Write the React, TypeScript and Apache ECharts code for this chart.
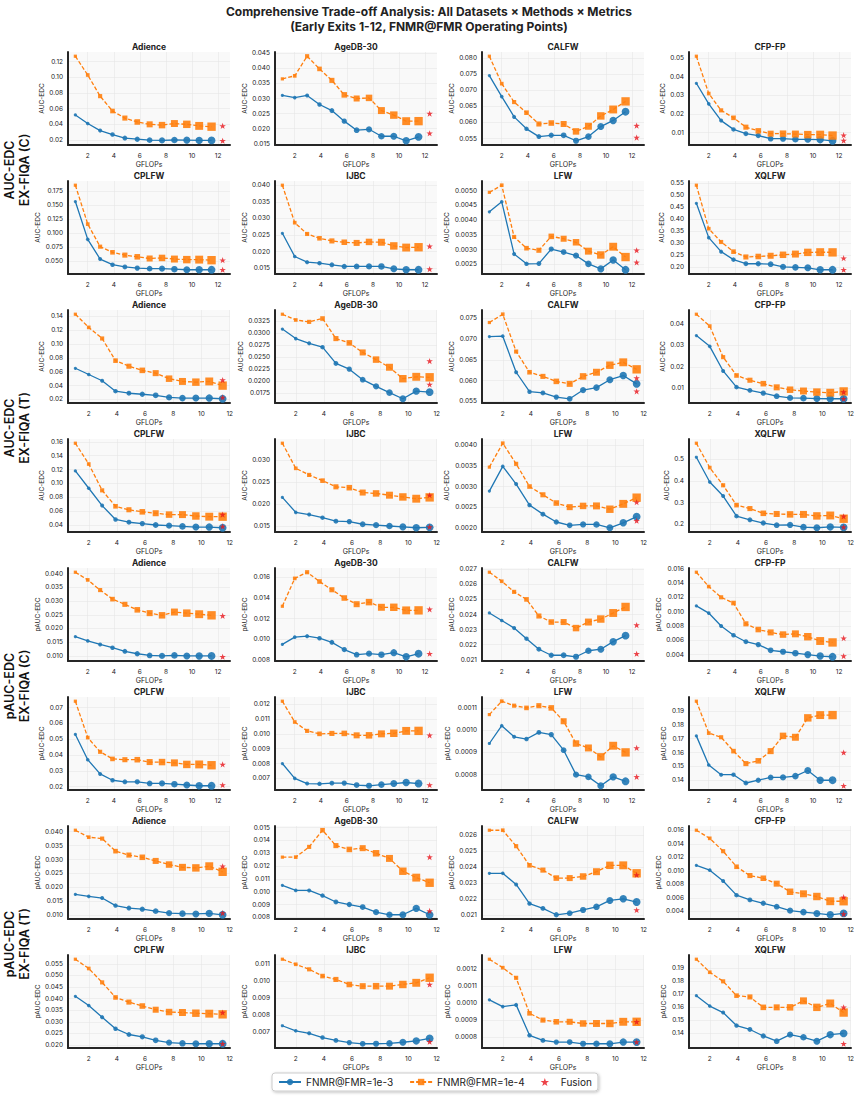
import React, { useEffect, useRef } from 'react';
import * as echarts from 'echarts';

// ---------- data ----------
const gflops = [1.05, 2.0, 2.95, 3.9, 4.85, 5.8, 6.75, 7.7, 8.65, 9.6, 10.55, 11.5];
const fusionGflopsC = 12.35;
const fusionGflopsT = 11.5;
const xTicks = [2, 4, 6, 8, 10, 12];
const datasetsA = ['Adience', 'AgeDB-30', 'CALFW', 'CFP-FP'];
const datasetsB = ['CPLFW', 'IJBC', 'LFW', 'XQLFW'];
const groupLabels = ['AUC-EDC\nEX-FIQA (C)', 'AUC-EDC\nEX-FIQA (T)', 'pAUC-EDC\nEX-FIQA (C)', 'pAUC-EDC\nEX-FIQA (T)'];
const metricNames = ['AUC-EDC', 'AUC-EDC', 'pAUC-EDC', 'pAUC-EDC'];
const seriesNames = ['FNMR@FMR=1e-3', 'FNMR@FMR=1e-4', 'Fusion'];
const figTitle = 'Comprehensive Trade-off Analysis: All Datasets \u00d7 Methods \u00d7 Metrics\n(Early Exits 1-12, FNMR@FMR Operating Points)';

// b: FNMR@FMR=1e-3, o: FNMR@FMR=1e-4, f: fusion [1e-4 level, 1e-3 level]
// ---- AUC-EDC, EX-FIQA (C)
const aucC_Adience = { b: [0.052, 0.041, 0.032, 0.027, 0.0225, 0.021, 0.0198, 0.0195, 0.020, 0.0198, 0.0195, 0.0195], o: [0.127, 0.103, 0.076, 0.057, 0.048, 0.043, 0.040, 0.039, 0.041, 0.040, 0.038, 0.037], f: [0.038, 0.019], ticks: [0.02, 0.04, 0.06, 0.08, 0.10, 0.12], dec: 2 };
const aucC_AgeDB = { b: [0.031, 0.0303, 0.031, 0.028, 0.026, 0.0225, 0.0195, 0.0198, 0.0175, 0.0175, 0.016, 0.0173], o: [0.0365, 0.0375, 0.044, 0.0398, 0.036, 0.0312, 0.030, 0.0302, 0.026, 0.0245, 0.0225, 0.0225], f: [0.025, 0.0185], ticks: [0.015, 0.020, 0.025, 0.030, 0.035, 0.040, 0.045], dec: 3 };
const aucC_CALFW = { b: [0.0745, 0.068, 0.0617, 0.058, 0.0556, 0.056, 0.056, 0.0543, 0.0556, 0.0587, 0.0606, 0.0633], o: [0.0805, 0.072, 0.0663, 0.063, 0.0595, 0.0598, 0.0595, 0.0572, 0.0588, 0.062, 0.064, 0.0665], f: [0.059, 0.0553], ticks: [0.055, 0.060, 0.065, 0.070, 0.075, 0.080], dec: 3 };
const aucC_CFPFP = { b: [0.0365, 0.0255, 0.0165, 0.0118, 0.0095, 0.0085, 0.0068, 0.0068, 0.0065, 0.0065, 0.0063, 0.0057], o: [0.051, 0.031, 0.022, 0.018, 0.013, 0.011, 0.0095, 0.0095, 0.0093, 0.009, 0.009, 0.0085], f: [0.0087, 0.0058], ticks: [0.01, 0.02, 0.03, 0.04, 0.05], dec: 2 };
const aucC_CPLFW = { b: [0.156, 0.089, 0.054, 0.044, 0.040, 0.038, 0.037, 0.037, 0.036, 0.035, 0.035, 0.035], o: [0.185, 0.116, 0.076, 0.066, 0.061, 0.058, 0.055, 0.056, 0.054, 0.053, 0.053, 0.052], f: [0.052, 0.035], ticks: [0.050, 0.075, 0.100, 0.125, 0.150, 0.175], dec: 3 };
const aucC_IJBC = { b: [0.0255, 0.0185, 0.0168, 0.0165, 0.016, 0.0155, 0.0155, 0.0155, 0.0155, 0.0148, 0.0145, 0.0145], o: [0.040, 0.0287, 0.0253, 0.024, 0.0232, 0.0228, 0.0226, 0.0229, 0.0228, 0.0217, 0.0212, 0.0213], f: [0.0216, 0.0147], ticks: [0.015, 0.020, 0.025, 0.030, 0.035, 0.040], dec: 3 };
const aucC_LFW = { b: [0.00428, 0.00462, 0.00285, 0.00252, 0.00253, 0.00302, 0.00292, 0.0028, 0.00252, 0.00235, 0.00265, 0.00232], o: [0.00494, 0.00518, 0.00343, 0.00305, 0.00298, 0.00345, 0.00337, 0.00325, 0.00295, 0.00282, 0.0031, 0.00275], f: [0.00298, 0.00257], ticks: [0.0025, 0.0030, 0.0035, 0.0040, 0.0045, 0.0050], dec: 4 };
const aucC_XQLFW = { b: [0.465, 0.323, 0.265, 0.232, 0.215, 0.215, 0.213, 0.202, 0.2, 0.198, 0.19, 0.19], o: [0.54, 0.36, 0.305, 0.265, 0.243, 0.245, 0.248, 0.252, 0.255, 0.262, 0.263, 0.262], f: [0.238, 0.19], ticks: [0.20, 0.25, 0.30, 0.35, 0.40, 0.45, 0.50, 0.55], dec: 2 };
// ---- AUC-EDC, EX-FIQA (T)
const aucT_Adience = { b: [0.065, 0.056, 0.047, 0.032, 0.029, 0.0275, 0.026, 0.023, 0.022, 0.022, 0.022, 0.021], o: [0.143, 0.124, 0.108, 0.076, 0.068, 0.062, 0.058, 0.050, 0.046, 0.045, 0.046, 0.040], f: [0.048, 0.023], ticks: [0.02, 0.04, 0.06, 0.08, 0.10, 0.12, 0.14], dec: 2 };
const aucT_AgeDB = { b: [0.0309, 0.0289, 0.0279, 0.0271, 0.0237, 0.0225, 0.0203, 0.0189, 0.0176, 0.0163, 0.0179, 0.0177], o: [0.0340, 0.0328, 0.0324, 0.0331, 0.0289, 0.0280, 0.0260, 0.0245, 0.0229, 0.0205, 0.0209, 0.0208], f: [0.0242, 0.0193], ticks: [0.0175, 0.0200, 0.0225, 0.0250, 0.0275, 0.0300, 0.0325], dec: 4 };
const aucT_CALFW = { b: [0.0706, 0.0707, 0.062, 0.0573, 0.057, 0.056, 0.0556, 0.0577, 0.0583, 0.0602, 0.0612, 0.0592], o: [0.074, 0.076, 0.067, 0.062, 0.061, 0.0598, 0.0592, 0.061, 0.062, 0.0637, 0.0644, 0.0627], f: [0.0606, 0.0574], ticks: [0.055, 0.060, 0.065, 0.070, 0.075], dec: 3 };
const aucT_CFPFP = { b: [0.0345, 0.0295, 0.0181, 0.0106, 0.0091, 0.0078, 0.0064, 0.0056, 0.0055, 0.0053, 0.0052, 0.0052], o: [0.0444, 0.0389, 0.0245, 0.016, 0.0138, 0.0122, 0.0105, 0.0094, 0.0088, 0.0083, 0.008, 0.0086], f: [0.0083, 0.0052], ticks: [0.01, 0.02, 0.03, 0.04], dec: 2 };
const aucT_CPLFW = { b: [0.118, 0.093, 0.068, 0.048, 0.044, 0.042, 0.040, 0.039, 0.038, 0.037, 0.037, 0.036], o: [0.158, 0.128, 0.090, 0.067, 0.062, 0.059, 0.057, 0.055, 0.055, 0.053, 0.052, 0.052], f: [0.055, 0.038], ticks: [0.04, 0.06, 0.08, 0.10, 0.12, 0.14, 0.16], dec: 2 };
const aucT_IJBC = { b: [0.0215, 0.0181, 0.0176, 0.0169, 0.0161, 0.016, 0.0154, 0.0152, 0.015, 0.0148, 0.0146, 0.0147], o: [0.0338, 0.0281, 0.0266, 0.0253, 0.0239, 0.0237, 0.0226, 0.0224, 0.022, 0.0216, 0.0212, 0.0215], f: [0.022, 0.0148], ticks: [0.015, 0.020, 0.025, 0.030], dec: 3 };
const aucT_LFW = { b: [0.00289, 0.00349, 0.00306, 0.00255, 0.00233, 0.00214, 0.00206, 0.00208, 0.00208, 0.002, 0.00212, 0.00227], o: [0.00347, 0.00405, 0.00355, 0.003, 0.0028, 0.0026, 0.0025, 0.00253, 0.00253, 0.00245, 0.00258, 0.00273], f: [0.00262, 0.00217], ticks: [0.0020, 0.0025, 0.0030, 0.0035, 0.0040], dec: 4 };
const aucT_XQLFW = { b: [0.51, 0.395, 0.33, 0.237, 0.22, 0.205, 0.195, 0.196, 0.186, 0.183, 0.187, 0.185], o: [0.575, 0.462, 0.38, 0.288, 0.272, 0.25, 0.247, 0.245, 0.245, 0.238, 0.24, 0.225], f: [0.236, 0.186], ticks: [0.2, 0.3, 0.4, 0.5], dec: 1 };
// ---- pAUC-EDC, EX-FIQA (C)
const paucC_Adience = { b: [0.017, 0.0155, 0.0142, 0.013, 0.0117, 0.0108, 0.0102, 0.0100, 0.0102, 0.0100, 0.0100, 0.0100], o: [0.0405, 0.0377, 0.034, 0.0307, 0.0288, 0.0268, 0.0256, 0.0248, 0.026, 0.0256, 0.0252, 0.0248], f: [0.0246, 0.0097], ticks: [0.010, 0.015, 0.020, 0.025, 0.030, 0.035, 0.040], dec: 3 };
const paucC_AgeDB = { b: [0.0095, 0.0102, 0.0103, 0.0101, 0.0097, 0.009, 0.0085, 0.0086, 0.0085, 0.0087, 0.0083, 0.0086], o: [0.0132, 0.0159, 0.0165, 0.0156, 0.0148, 0.014, 0.0134, 0.0136, 0.0131, 0.0131, 0.0128, 0.0128], f: [0.0129, 0.0086], ticks: [0.008, 0.010, 0.012, 0.014, 0.016], dec: 3 };
const paucC_CALFW = { b: [0.0241, 0.0236, 0.0231, 0.0224, 0.0217, 0.0213, 0.0213, 0.0212, 0.0216, 0.0217, 0.0222, 0.0226], o: [0.0268, 0.0262, 0.0255, 0.025, 0.0239, 0.0235, 0.0235, 0.0231, 0.0235, 0.0237, 0.0241, 0.0245], f: [0.0233, 0.0214], ticks: [0.021, 0.022, 0.023, 0.024, 0.025, 0.026, 0.027], dec: 3 };
const paucC_CFPFP = { b: [0.0108, 0.0098, 0.008, 0.0067, 0.0058, 0.0054, 0.0046, 0.0044, 0.0042, 0.004, 0.0038, 0.0037], o: [0.0155, 0.0135, 0.012, 0.0112, 0.0083, 0.0075, 0.0071, 0.0068, 0.0069, 0.0065, 0.0059, 0.0057], f: [0.0063, 0.0038], ticks: [0.004, 0.006, 0.008, 0.010, 0.012, 0.014, 0.016], dec: 3 };
const paucC_CPLFW = { b: [0.053, 0.037, 0.028, 0.024, 0.023, 0.023, 0.022, 0.022, 0.0215, 0.021, 0.0205, 0.0205], o: [0.074, 0.051, 0.042, 0.0375, 0.037, 0.037, 0.0355, 0.0355, 0.035, 0.034, 0.034, 0.0335], f: [0.034, 0.021], ticks: [0.02, 0.03, 0.04, 0.05, 0.06, 0.07], dec: 2 };
const paucC_IJBC = { b: [0.0080, 0.0070, 0.00665, 0.00663, 0.00668, 0.00668, 0.00655, 0.0065, 0.00658, 0.00665, 0.00672, 0.00665], o: [0.0122, 0.0108, 0.0102, 0.0100, 0.01003, 0.01003, 0.0099, 0.0099, 0.01, 0.01004, 0.0102, 0.0102], f: [0.0099, 0.00655], ticks: [0.007, 0.008, 0.009, 0.010, 0.011, 0.012], dec: 3 };
const paucC_LFW = { b: [0.00094, 0.00102, 0.00097, 0.00096, 0.00099, 0.00098, 0.00091, 0.0008, 0.00079, 0.00075, 0.00079, 0.00077], o: [0.00107, 0.00113, 0.00111, 0.0011, 0.00111, 0.0011, 0.00104, 0.00094, 0.00092, 0.00088, 0.00093, 0.0009], f: [0.00092, 0.00079], ticks: [0.0008, 0.0009, 0.0010, 0.0011], dec: 4 };
const paucC_XQLFW = { b: [0.172, 0.151, 0.144, 0.144, 0.138, 0.14, 0.142, 0.142, 0.143, 0.147, 0.14, 0.14], o: [0.197, 0.174, 0.171, 0.161, 0.152, 0.154, 0.161, 0.172, 0.171, 0.185, 0.187, 0.187], f: [0.160, 0.136], ticks: [0.14, 0.15, 0.16, 0.17, 0.18, 0.19], dec: 2 };
// ---- pAUC-EDC, EX-FIQA (T)
const paucT_Adience = { b: [0.0175, 0.0168, 0.0162, 0.0135, 0.0126, 0.0122, 0.0115, 0.0108, 0.0106, 0.0105, 0.0107, 0.0102], o: [0.0405, 0.038, 0.0375, 0.033, 0.0316, 0.0308, 0.0295, 0.0282, 0.0272, 0.027, 0.0276, 0.0256], f: [0.0276, 0.0108], ticks: [0.010, 0.015, 0.020, 0.025, 0.030, 0.035, 0.040], dec: 3 };
const paucT_AgeDB = { b: [0.0105, 0.0101, 0.0101, 0.0097, 0.0092, 0.009, 0.0088, 0.0084, 0.0082, 0.0082, 0.0087, 0.0082], o: [0.0127, 0.0127, 0.0135, 0.0148, 0.0136, 0.0133, 0.0134, 0.013, 0.0126, 0.0116, 0.0111, 0.0107], f: [0.0127, 0.0085], ticks: [0.008, 0.009, 0.010, 0.011, 0.012, 0.013, 0.014, 0.015], dec: 3 };
const paucT_CALFW = { b: [0.0236, 0.0236, 0.0229, 0.0217, 0.0214, 0.021, 0.0211, 0.0213, 0.0215, 0.0219, 0.022, 0.0218], o: [0.0263, 0.0263, 0.0253, 0.0241, 0.0238, 0.0233, 0.0233, 0.0234, 0.0237, 0.0241, 0.0241, 0.0236], f: [0.0235, 0.0213], ticks: [0.021, 0.022, 0.023, 0.024, 0.025, 0.026], dec: 3 };
const paucT_CFPFP = { b: [0.0108, 0.0101, 0.0085, 0.0064, 0.0057, 0.0052, 0.0047, 0.0041, 0.0039, 0.0037, 0.0035, 0.0037], o: [0.016, 0.0148, 0.0129, 0.0106, 0.0093, 0.0089, 0.0081, 0.0069, 0.0066, 0.0062, 0.0055, 0.0055], f: [0.0061, 0.0036], ticks: [0.004, 0.006, 0.008, 0.010, 0.012, 0.014, 0.016], dec: 3 };
const paucT_CPLFW = { b: [0.041, 0.037, 0.032, 0.027, 0.0245, 0.0235, 0.022, 0.021, 0.0207, 0.0205, 0.0205, 0.0205], o: [0.057, 0.053, 0.047, 0.0405, 0.0385, 0.0368, 0.0352, 0.0342, 0.034, 0.0337, 0.0335, 0.0332], f: [0.034, 0.0205], ticks: [0.020, 0.025, 0.030, 0.035, 0.040, 0.045, 0.050, 0.055], dec: 3 };
const paucT_IJBC = { b: [0.00735, 0.00705, 0.0069, 0.00665, 0.00648, 0.00635, 0.00628, 0.00628, 0.0063, 0.00637, 0.00645, 0.0066], o: [0.0113, 0.0110, 0.0107, 0.0103, 0.0101, 0.0098, 0.0097, 0.0097, 0.0097, 0.0098, 0.0099, 0.0102], f: [0.0098, 0.0064], ticks: [0.007, 0.008, 0.009, 0.010, 0.011], dec: 3 };
const paucT_LFW = { b: [0.00102, 0.00098, 0.00099, 0.00081, 0.00078, 0.00077, 0.00077, 0.00076, 0.00076, 0.00076, 0.00077, 0.00077], o: [0.00126, 0.00121, 0.00115, 0.00094, 0.0009, 0.00089, 0.00089, 0.00088, 0.00088, 0.00088, 0.00089, 0.00089], f: [0.00089, 0.00077], ticks: [0.0008, 0.0009, 0.0010, 0.0011, 0.0012], dec: 4 };
const paucT_XQLFW = { b: [0.169, 0.161, 0.156, 0.146, 0.143, 0.138, 0.134, 0.139, 0.137, 0.134, 0.139, 0.14], o: [0.197, 0.187, 0.18, 0.169, 0.168, 0.16, 0.16, 0.16, 0.165, 0.16, 0.163, 0.156], f: [0.16, 0.132], ticks: [0.14, 0.15, 0.16, 0.17, 0.18, 0.19], dec: 2 };

const panelRows = [
  [aucC_Adience, aucC_AgeDB, aucC_CALFW, aucC_CFPFP],
  [aucC_CPLFW, aucC_IJBC, aucC_LFW, aucC_XQLFW],
  [aucT_Adience, aucT_AgeDB, aucT_CALFW, aucT_CFPFP],
  [aucT_CPLFW, aucT_IJBC, aucT_LFW, aucT_XQLFW],
  [paucC_Adience, paucC_AgeDB, paucC_CALFW, paucC_CFPFP],
  [paucC_CPLFW, paucC_IJBC, paucC_LFW, paucC_XQLFW],
  [paucT_Adience, paucT_AgeDB, paucT_CALFW, paucT_CFPFP],
  [paucT_CPLFW, paucT_IJBC, paucT_LFW, paucT_XQLFW],
];

// ---------- layout / style ----------
const FONT = 'Inter, "DejaVu Sans", sans-serif';
const BLUE = '#1f77b4';
const ORANGE = '#ff7f0e';
const RED = '#e8141c';
const STAR = 'path://M50,0 L61.8,35.1 L98.9,35.5 L69.1,57.6 L80.2,93 L50,71.5 L19.8,93 L30.9,57.6 L1.1,35.5 L38.2,35.1 Z';
const COL_LEFT = [68, 275, 482, 689];
const PW = 162;
const PH = 93;
const TOP0 = 52;
const PITCH = 129;

function buildOption() {
  const grids: any[] = [];
  const xAxes: any[] = [];
  const yAxes: any[] = [];
  const series: any[] = [];
  const graphics: any[] = [];

  panelRows.forEach((row, r) => {
    const isC = Math.floor(r / 2) % 2 === 0;
    const fx = isC ? fusionGflopsC : fusionGflopsT;
    const names = r % 2 === 0 ? datasetsA : datasetsB;
    row.forEach((p, c) => {
      const idx = r * 4 + c;
      const left = COL_LEFT[c];
      const top = TOP0 + r * PITCH;
      grids.push({ left, top, width: PW, height: PH, show: true, backgroundColor: '#f9f9f9', borderWidth: 0 });

      const xLo = gflops[0];
      const xHi = Math.max(gflops[gflops.length - 1], fx);
      const xPad = (xHi - xLo) * 0.05;
      const all = [...p.b, ...p.o, ...p.f];
      const yLo = Math.min(...all);
      const yHi = Math.max(...all);
      const yPad = (yHi - yLo) * 0.05;
      const ymin = yLo - yPad;
      const ymax = yHi + yPad;
      const ticks = p.ticks.filter((t) => t >= ymin - 1e-12 && t <= ymax + 1e-12);
      const labLen = Math.max(...ticks.map((t) => t.toFixed(p.dec).length));

      xAxes.push({
        type: 'value', gridIndex: idx, min: xLo - xPad, max: xHi + xPad,
        axisLine: { show: true, onZero: false, lineStyle: { color: '#262626', width: 2 } },
        axisTick: { show: false, customValues: xTicks },
        axisLabel: { customValues: xTicks, formatter: (v: number) => String(Math.round(v)), fontSize: 6.5, color: '#222', margin: 7, fontFamily: FONT },
        splitLine: { show: true, lineStyle: { color: '#e6e6e6', width: 0.6 } },
        name: 'GFLOPs', nameLocation: 'middle', nameGap: 16,
        nameTextStyle: { fontSize: 7, color: '#222', fontFamily: FONT },
      });
      yAxes.push({
        type: 'value', gridIndex: idx, min: ymin, max: ymax,
        axisLine: { show: true, lineStyle: { color: '#262626', width: 2 } },
        axisTick: { show: false, customValues: ticks },
        axisLabel: { customValues: ticks, formatter: (v: number) => v.toFixed(p.dec), fontSize: 6.5, color: '#222', margin: 5, fontFamily: FONT },
        splitLine: { show: true, lineStyle: { color: '#e6e6e6', width: 0.6 } },
        name: metricNames[Math.floor(r / 2)], nameLocation: 'middle', nameGap: 8 + labLen * 3.5,
        nameTextStyle: { fontSize: 6.5, color: '#222', fontFamily: FONT },
      });

      series.push({
        type: 'line', name: seriesNames[0], xAxisIndex: idx, yAxisIndex: idx,
        data: gflops.map((x, i) => [x, p.b[i]]),
        symbol: 'circle', symbolSize: (_v: any, prm: any) => 3.2 + prm.dataIndex * 0.42,
        lineStyle: { color: BLUE, width: 1.3 }, itemStyle: { color: BLUE, opacity: 0.9 },
        z: 3,
      });
      series.push({
        type: 'line', name: seriesNames[1], xAxisIndex: idx, yAxisIndex: idx,
        data: gflops.map((x, i) => [x, p.o[i]]),
        symbol: 'rect', symbolSize: (_v: any, prm: any) => 3.2 + prm.dataIndex * 0.47,
        lineStyle: { color: ORANGE, width: 1.3, type: [4, 2] }, itemStyle: { color: ORANGE, opacity: 0.9 },
        z: 4,
      });
      series.push({
        type: 'scatter', name: seriesNames[2], xAxisIndex: idx, yAxisIndex: idx,
        data: p.f.map((v) => [fx, v]),
        symbol: STAR, symbolSize: 6.5, symbolKeepAspect: true,
        itemStyle: { color: RED }, z: 5,
      });

      graphics.push({
        type: 'text', x: left + PW / 2, y: top - 5,
        style: { text: names[c], fill: '#222', font: `bold 8.5px ${FONT}`, align: 'center', textAlign: 'center', verticalAlign: 'middle', textVerticalAlign: 'middle' },
      });
    });
  });

  groupLabels.forEach((g, k) => {
    graphics.push({
      type: 'text', x: 17, y: 170 + k * 2 * PITCH, rotation: Math.PI / 2,
      style: { text: g, fill: '#111', font: `600 12.5px ${FONT}`, lineHeight: 15, align: 'center', textAlign: 'center', verticalAlign: 'middle', textVerticalAlign: 'middle' },
    });
  });

  return {
    animation: false,
    backgroundColor: '#ffffff',
    title: {
      text: figTitle, left: 'center', top: -1,
      textStyle: { fontSize: 12, fontWeight: 'bold', color: '#222', lineHeight: 15, fontFamily: FONT },
    },
    legend: {
      data: seriesNames, left: 272, top: 1073, orient: 'horizontal',
      itemWidth: 22, itemHeight: 8, itemGap: 16, padding: [4, 6],
      textStyle: { fontSize: 10, color: '#222', fontFamily: FONT },
      borderColor: '#cccccc', borderWidth: 1, borderRadius: 3, backgroundColor: '#ffffff',
      shadowBlur: 3, shadowColor: 'rgba(0,0,0,0.25)', shadowOffsetX: 1, shadowOffsetY: 1,
    },
    grid: grids,
    xAxis: xAxes,
    yAxis: yAxes,
    series,
    graphic: { elements: graphics },
  };
}

export default function App() {
  const ref = useRef<HTMLDivElement>(null);
  useEffect(() => {
    document.body.style.margin = '0';
    const chart = echarts.init(ref.current!, null, { renderer: 'svg' });
    chart.setOption(buildOption() as any);
    return () => chart.dispose();
  }, []);
  return <div ref={ref} style={{ width: 858, height: 1099 }} />;
}
